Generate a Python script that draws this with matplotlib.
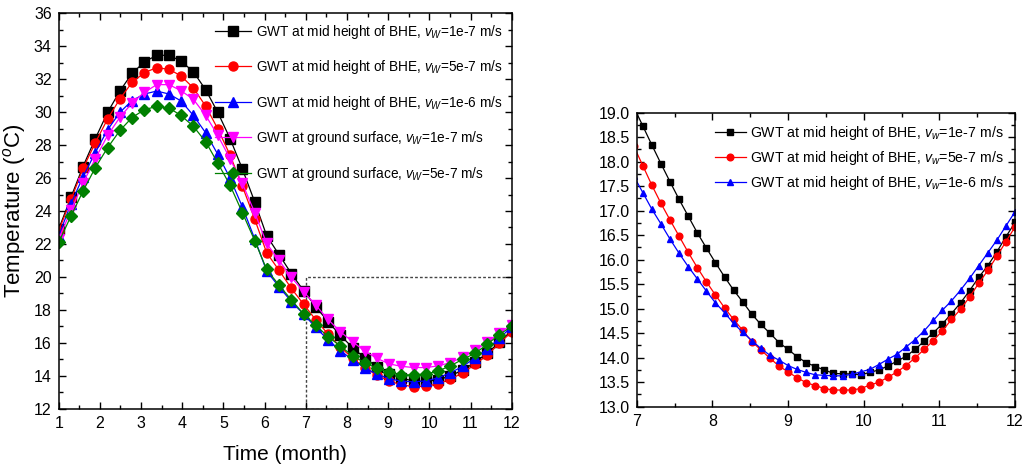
import matplotlib
matplotlib.use('Agg')
import matplotlib.pyplot as plt
from matplotlib.patches import Rectangle
from matplotlib.ticker import MultipleLocator, FormatStrFormatter

plt.rcParams['font.family'] = ['Liberation Sans', 'DejaVu Sans']
plt.rcParams['mathtext.fontset'] = 'custom'
plt.rcParams['mathtext.rm'] = 'Liberation Sans'
plt.rcParams['mathtext.it'] = 'Liberation Sans:italic'

# left panel: whole year (months 1-12)
t_year = [1.00, 1.30, 1.59, 1.89, 2.19, 2.49, 2.78, 3.08, 3.38, 3.68, 3.97, 4.27, 4.57,
          4.86, 5.16, 5.46, 5.76, 6.05, 6.35, 6.65, 6.95, 7.24, 7.54, 7.84, 8.14, 8.43,
          8.73, 9.03, 9.32, 9.62, 9.92, 10.22, 10.51, 10.81, 11.11, 11.41, 11.70, 12.00]
mid_1e7 = [22.9, 24.85, 26.7, 28.4, 30.0, 31.3, 32.35, 33.05, 33.45, 33.45, 33.1, 32.45, 31.35,
           30.0, 28.4, 26.55, 24.55, 22.5, 21.35, 20.2, 19.15, 18.2, 17.28, 16.45, 15.7, 15.08,
           14.55, 14.13, 13.85, 13.68, 13.66, 13.76, 13.99, 14.35, 14.81, 15.39, 16.02, 16.76]
mid_5e7 = [22.8, 24.7, 26.58, 28.15, 29.6, 30.82, 31.8, 32.4, 32.7, 32.6, 32.2, 31.47, 30.36,
           29.0, 27.4, 25.5, 23.5, 21.46, 20.4, 19.3, 18.33, 17.4, 16.53, 15.74, 15.06, 14.5,
           14.03, 13.68, 13.45, 13.34, 13.36, 13.52, 13.79, 14.18, 14.69, 15.26, 15.97, 16.67]
mid_1e6 = [22.5, 24.45, 26.07, 27.55, 28.94, 30.0, 30.7, 31.1, 31.28, 31.1, 30.68, 29.8, 28.74,
           27.45, 26.0, 24.25, 22.3, 20.35, 19.4, 18.5, 17.73, 16.93, 16.18, 15.53, 14.95, 14.48,
           14.09, 13.82, 13.67, 13.63, 13.69, 13.88, 14.18, 14.57, 15.08, 15.64, 16.27, 16.98]
surf_1e7 = [22.3, 24.05, 25.7, 27.18, 28.6, 29.7, 30.55, 31.2, 31.67, 31.67, 31.3, 30.78, 29.8,
            28.6, 27.18, 25.67, 23.9, 22.03, 21.0, 19.97, 19.1, 18.29, 17.42, 16.67, 16.06, 15.5,
            15.05, 14.72, 14.57, 14.5, 14.5, 14.6, 14.8, 15.12, 15.56, 16.02, 16.6, 17.1]
surf_5e7 = [22.1, 23.7, 25.2, 26.64, 27.85, 28.9, 29.67, 30.15, 30.35, 30.25, 29.8, 29.14, 28.2,
            26.92, 25.57, 23.9, 22.2, 20.45, 19.5, 18.6, 17.74, 17.07, 16.37, 15.8, 15.2, 14.8,
            14.45, 14.2, 14.05, 14.05, 14.1, 14.3, 14.6, 15.0, 15.36, 15.92, 16.5, 17.0]

# right panel: zoom on months 7-12
t_zoom = [6.96, 7.08, 7.20, 7.32, 7.44, 7.56, 7.68, 7.80, 7.92, 8.04, 8.16, 8.28, 8.40, 8.52,
          8.64, 8.76, 8.88, 9.00, 9.12, 9.24, 9.36, 9.48, 9.60, 9.72, 9.84, 9.96, 10.08, 10.20,
          10.32, 10.44, 10.56, 10.68, 10.80, 10.92, 11.04, 11.16, 11.28, 11.40, 11.52, 11.64,
          11.76, 11.88, 12.00]
zoom_1e7 = [19.12, 18.73, 18.34, 17.96, 17.59, 17.23, 16.89, 16.55, 16.24, 15.94, 15.65, 15.38,
            15.14, 14.89, 14.68, 14.50, 14.31, 14.17, 14.02, 13.90, 13.82, 13.75, 13.68, 13.67,
            13.67, 13.65, 13.70, 13.75, 13.83, 13.93, 14.03, 14.17, 14.34, 14.51, 14.69, 14.90,
            15.12, 15.37, 15.64, 15.88, 16.16, 16.47, 16.76]
zoom_5e7 = [18.32, 17.92, 17.52, 17.15, 16.81, 16.48, 16.15, 15.84, 15.55, 15.28, 15.02, 14.78,
            14.56, 14.33, 14.16, 13.99, 13.83, 13.71, 13.59, 13.49, 13.43, 13.37, 13.34, 13.34,
            13.34, 13.37, 13.44, 13.50, 13.60, 13.71, 13.84, 14.00, 14.17, 14.35, 14.55, 14.78,
            14.99, 15.24, 15.52, 15.78, 16.07, 16.37, 16.67]
zoom_1e6 = [17.71, 17.37, 17.03, 16.73, 16.42, 16.13, 15.86, 15.61, 15.36, 15.12, 14.92, 14.70,
            14.52, 14.35, 14.19, 14.05, 13.95, 13.84, 13.76, 13.70, 13.65, 13.64, 13.63, 13.63,
            13.66, 13.71, 13.76, 13.86, 13.97, 14.07, 14.22, 14.37, 14.55, 14.76, 14.97, 15.16,
            15.38, 15.62, 15.88, 16.14, 16.40, 16.69, 16.98]

# zoom window drawn on the left panel
zoom_t = (7, 12)
zoom_T = (12, 20)

left_labels = ['GWT at mid height of BHE, $v_W$=1e-7 m/s',
               'GWT at mid height of BHE, $v_W$=5e-7 m/s',
               'GWT at mid height of BHE, $v_W$=1e-6 m/s',
               'GWT at ground surface, $v_W$=1e-7 m/s',
               'GWT at ground surface, $v_W$=5e-7 m/s']
right_labels = ['GWT at mid height of BHE, $v_w$=1e-7 m/s',
                'GWT at mid height of BHE, $v_w$=5e-7 m/s',
                'GWT at mid height of BHE, $v_w$=1e-6 m/s']
colors = ['black', '#ff0000', '#0000ff', '#ff00ff', '#008000']
markers = ['s', 'o', '^', 'v', 'D']


def style_axes(ax, fs):
    ax.tick_params(which='both', direction='in', top=True, right=True, labelsize=fs, width=1)
    ax.tick_params(which='major', length=5, pad=5)
    ax.tick_params(which='minor', length=3)
    for s in ax.spines.values():
        s.set_linewidth(1.1)


fig = plt.figure(figsize=(10.28, 4.70), dpi=100)

ax1 = fig.add_axes([0.0571, 0.1304, 0.4407, 0.8413])
series = [mid_1e7, mid_5e7, mid_1e6, surf_1e7, surf_5e7]
for y, c, m, lab in zip(series, colors, markers, left_labels):
    ax1.plot(t_year, y, color=c, marker=m, markersize=6.5,
             linewidth=0.9, label=lab)
ax1.add_patch(Rectangle((zoom_t[0], zoom_T[0]), zoom_t[1] - zoom_t[0], zoom_T[1] - zoom_T[0],
                        fill=False, linestyle=(0, (2, 1.5)), edgecolor='#444444', linewidth=1,
                        zorder=1))
ax1.set_xlim(1, 12)
ax1.set_ylim(12, 36)
ax1.xaxis.set_major_locator(MultipleLocator(1))
ax1.xaxis.set_minor_locator(MultipleLocator(0.5))
ax1.yaxis.set_major_locator(MultipleLocator(2))
ax1.yaxis.set_minor_locator(MultipleLocator(1))
style_axes(ax1, 11.5)
ax1.set_xlabel('Time (month)', fontsize=15, labelpad=10)
ax1.set_ylabel('Temperature ($^o$C)', fontsize=16, labelpad=4)
ax1.legend(loc='upper right', frameon=False, fontsize=9.8, labelspacing=1.28,
           handlelength=2.7, handletextpad=0.3, borderaxespad=0.3)

ax2 = fig.add_axes([0.6194, 0.1347, 0.368, 0.6255])
for y, c, m, lab in zip([zoom_1e7, zoom_5e7, zoom_1e6], colors, markers, right_labels):
    ax2.plot(t_zoom, y, color=c, marker=m, markersize=4.8, linewidth=0.9, label=lab)
ax2.set_xlim(7, 12)
ax2.set_ylim(13, 19)
ax2.xaxis.set_major_locator(MultipleLocator(1))
ax2.xaxis.set_minor_locator(MultipleLocator(0.5))
ax2.yaxis.set_major_locator(MultipleLocator(0.5))
ax2.yaxis.set_minor_locator(MultipleLocator(0.25))
ax2.yaxis.set_major_formatter(FormatStrFormatter('%.1f'))
style_axes(ax2, 11.5)
ax2.legend(loc='upper right', frameon=False, fontsize=10.2, labelspacing=0.5,
           handlelength=2.2, handletextpad=0.3, borderaxespad=0.4)

fig.savefig('out.png', dpi=100)
